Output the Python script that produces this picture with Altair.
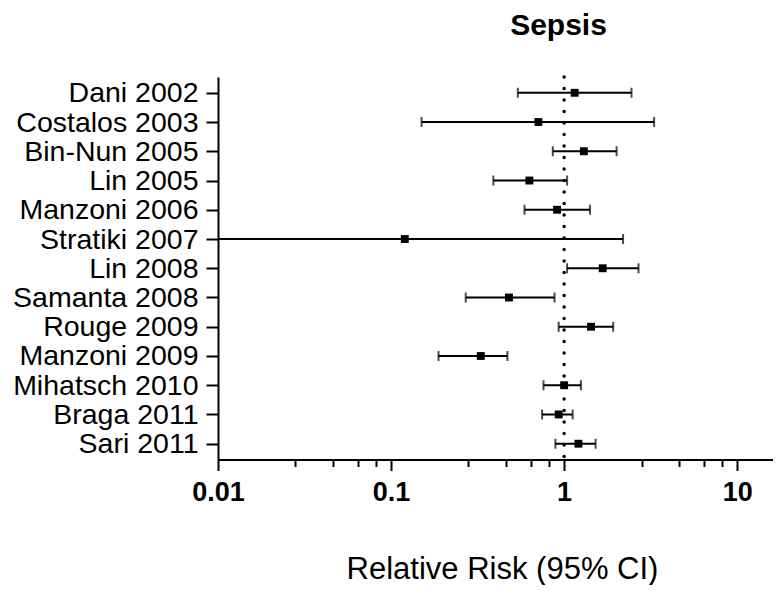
import altair as alt
import pandas as pd

studies = ["Dani 2002", "Costalos 2003", "Bin-Nun 2005", "Lin 2005", "Manzoni 2006",
           "Stratiki 2007", "Lin 2008", "Samanta 2008", "Rouge 2009", "Manzoni 2009",
           "Mihatsch 2010", "Braga 2011", "Sari 2011"]
rr = [1.15, 0.71, 1.30, 0.63, 0.91, 0.12, 1.67, 0.48, 1.43, 0.33, 1.00, 0.93, 1.21]
ci_low = [0.54, 0.15, 0.86, 0.39, 0.59, 0.0065, 1.04, 0.27, 0.93, 0.188, 0.76, 0.746, 0.89]
ci_high = [2.45, 3.31, 2.01, 1.04, 1.41, 2.19, 2.69, 0.88, 1.92, 0.47, 1.25, 1.12, 1.52]

major_ticks = [0.01, 0.1, 1, 10]
minor_steps = [2.8, 4.6, 6.4, 8.2]
x_max = 16.1

tick_values = sorted(major_ticks + [round(m * d, 6) for d in major_ticks for m in minor_steps if m * d <= x_max])

df = pd.DataFrame({"study": studies, "rr": rr, "lo": ci_low, "hi": ci_high})

FONT = "Liberation Sans"
major_js = "[" + ",".join(str(v) for v in major_ticks) + "]"
is_major = f"indexof({major_js}, datum.value) >= 0"

xscale = alt.Scale(type="log", domain=[0.01, x_max], nice=False)
yscale = alt.Scale(type="point", padding=0.54)

xaxis = alt.Axis(
    values=tick_values,
    format=".2~f",
    labelExpr=f"{is_major} ? datum.label : ''",
    labelFont=FONT, labelFontSize=27, labelFontWeight="bold", labelColor="black",
    labelPadding=9, labelFlush=False, labelOverlap=False,
    tickSize={"condition": {"test": is_major, "value": 11}, "value": 7},
    tickWidth=2, tickColor="black",
    domainWidth=2, domainColor="black",
    grid=False,
    title="Relative Risk (95% CI)",
    titleFont=FONT, titleFontSize=31, titleFontWeight="normal", titleColor="black",
    titleBaseline="alphabetic", titleAlign="center", titleAnchor="start",
    titleX=284, titleY=119,
)
yaxis = alt.Axis(
    title=None,
    labelFont=FONT, labelFontSize=28.5, labelColor="black", labelPadding=8, labelLimit=0,
    tickSize=12, tickWidth=2, tickColor="black",
    domainWidth=2, domainColor="black", grid=False, labelOverlap=False,
)

base = alt.Chart(df)
y_enc = alt.Y("study:N", sort=studies, scale=yscale, axis=yaxis)

ci = base.mark_rule(color="black", strokeWidth=2, clip=True).encode(
    x=alt.X("lo:Q", scale=xscale, axis=xaxis),
    x2="hi:Q",
    y=y_enc,
)
cap_lo = base.mark_tick(color="black", size=10, thickness=2, orient="vertical", clip=True).encode(
    x=alt.X("lo:Q", scale=xscale), y=alt.Y("study:N", sort=studies, scale=yscale))
cap_hi = base.mark_tick(color="black", size=10, thickness=2, orient="vertical", clip=True).encode(
    x=alt.X("hi:Q", scale=xscale), y=alt.Y("study:N", sort=studies, scale=yscale))
ref = alt.Chart().mark_rule(color="black", strokeWidth=3.5, strokeDash=[0, 11.5], strokeCap="round").encode(
    x=alt.datum(1, scale=xscale))
pts = base.mark_square(color="black", size=62, opacity=1).encode(
    x=alt.X("rr:Q", scale=xscale), y=alt.Y("study:N", sort=studies, scale=yscale))

chart = alt.layer(ci, cap_lo, cap_hi, ref, pts).properties(
    width=555,
    height=382.5,
    autosize=alt.AutoSizeParams(type="none"),
    padding={"left": 210, "top": 69, "right": 0, "bottom": 125},
    title=alt.TitleParams("Sepsis", font=FONT, fontSize=30, fontWeight="bold", color="black",
                          anchor="middle", dx=63, baseline="alphabetic", offset=10, frame="group"),
    background="white",
).configure_view(stroke=None)

chart.save("out.html", embed_options={"renderer": "svg", "actions": False})
